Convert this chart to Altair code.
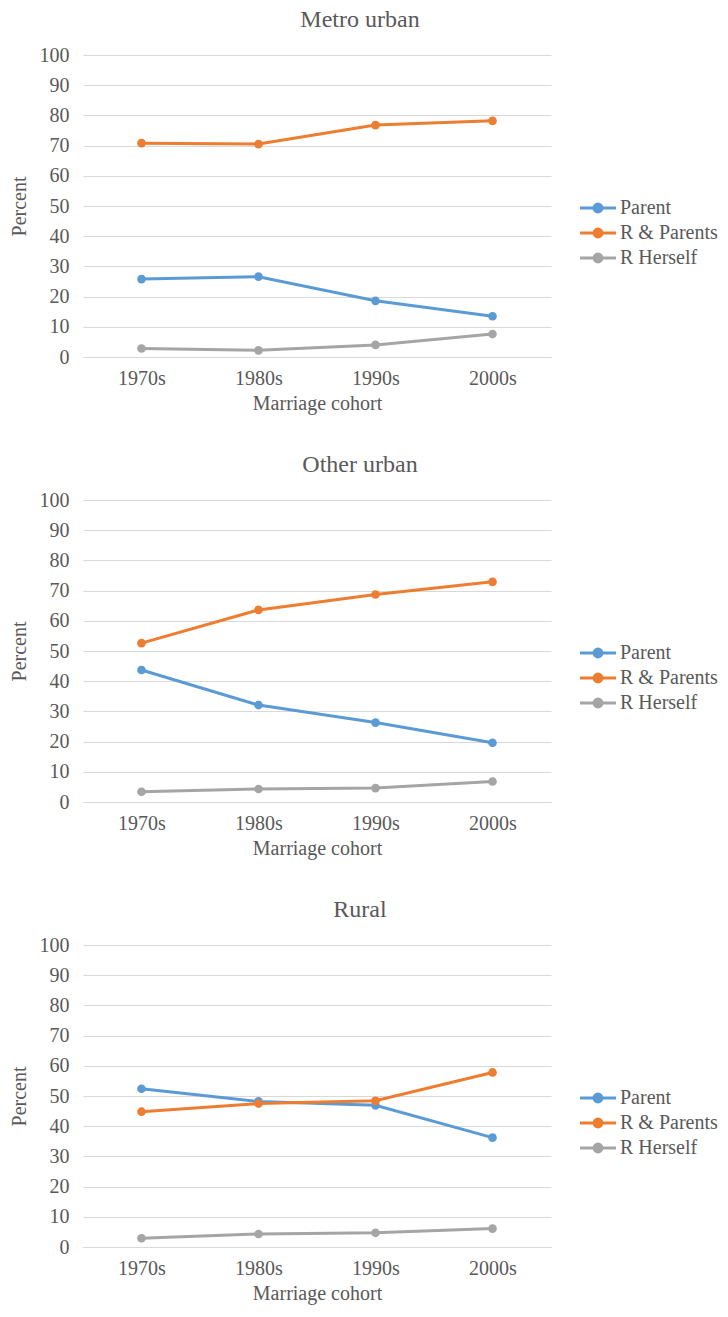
import altair as alt
import pandas as pd

cohorts = ["1970s", "1980s", "1990s", "2000s"]
series_names = ["Parent", "R & Parents", "R Herself"]
series_colors = ["#5B9BD5", "#ED7D31", "#A5A5A5"]

panel_titles = ["Metro urban", "Other urban", "Rural"]

metro_parent = [25.8, 26.6, 18.6, 13.5]
metro_rp = [70.8, 70.5, 76.8, 78.2]
metro_rh = [2.8, 2.2, 4.0, 7.6]

other_parent = [43.7, 32.1, 26.3, 19.6]
other_rp = [52.6, 63.6, 68.7, 72.9]
other_rh = [3.4, 4.3, 4.6, 6.8]

rural_parent = [52.4, 48.2, 46.9, 36.2]
rural_rp = [44.8, 47.5, 48.4, 57.8]
rural_rh = [2.9, 4.3, 4.7, 6.1]

panel_values = [
    [metro_parent, metro_rp, metro_rh],
    [other_parent, other_rp, other_rh],
    [rural_parent, rural_rp, rural_rh],
]

FONT = "Liberation Serif"
TXT = "#595959"
SYMBOL = "M-1.36,0L1.36,0M0.3,0A0.3,0.3,0,1,1,-0.3,0A0.3,0.3,0,1,1,0.3,0Z"


def make_panel(title, values):
    rows = []
    for si, name in enumerate(series_names):
        for ci, c in enumerate(cohorts):
            rows.append({"cohort": c, "series": name, "value": values[si][ci], "order": si})
    df = pd.DataFrame(rows)
    color = alt.Color(
        "series:N",
        scale=alt.Scale(domain=series_names, range=series_colors),
        legend=alt.Legend(
            title=None,
            orient="none",
            legendX=500,
            legendY=138,
            symbolType=SYMBOL,
            symbolSize=700,
            symbolStrokeWidth=3,
            labelFont=FONT,
            labelFontSize=20,
            labelColor=TXT,
            labelOffset=7,
            rowPadding=0,
        ),
    )
    x = alt.X(
        "cohort:N",
        sort=cohorts,
        scale=alt.Scale(type="point", padding=0.5),
        axis=alt.Axis(title="Marriage cohort", labelAngle=0, ticks=False,
                      domainColor="#D9D9D9", labelPadding=11, titlePadding=5),
    )
    y = alt.Y(
        "value:Q",
        scale=alt.Scale(domain=[0, 100]),
        axis=alt.Axis(title="Percent", values=list(range(0, 101, 10)), ticks=False,
                      domain=False, labelPadding=14, titlePadding=10),
    )
    base = alt.Chart(df).encode(x=x, y=y, color=color, order="order:Q")
    lines = base.mark_line(strokeWidth=3)
    pts = base.mark_point(filled=True, size=75, opacity=1)
    return alt.layer(lines, pts).properties(
        width=468,
        height=302,
        title=alt.TitleParams(title, fontSize=24, font=FONT, color=TXT,
                              fontWeight="normal", dx=43, offset=13),
    )


panels = [make_panel(t, v) for t, v in zip(panel_titles, panel_values)]

chart = (
    alt.vconcat(*panels, spacing=40)
    .resolve_legend(color="independent")
    .properties(padding={"left": 9, "top": 8, "right": 5, "bottom": 5}, background="white")
    .configure_view(stroke=None)
    .configure_axis(
        labelFont=FONT, titleFont=FONT, labelFontSize=20, titleFontSize=20,
        labelColor=TXT, titleColor=TXT, titleFontWeight="normal",
        gridColor="#D9D9D9", gridWidth=1,
    )
)

chart.save("out.html", embed_options={"renderer": "svg", "actions": False})
